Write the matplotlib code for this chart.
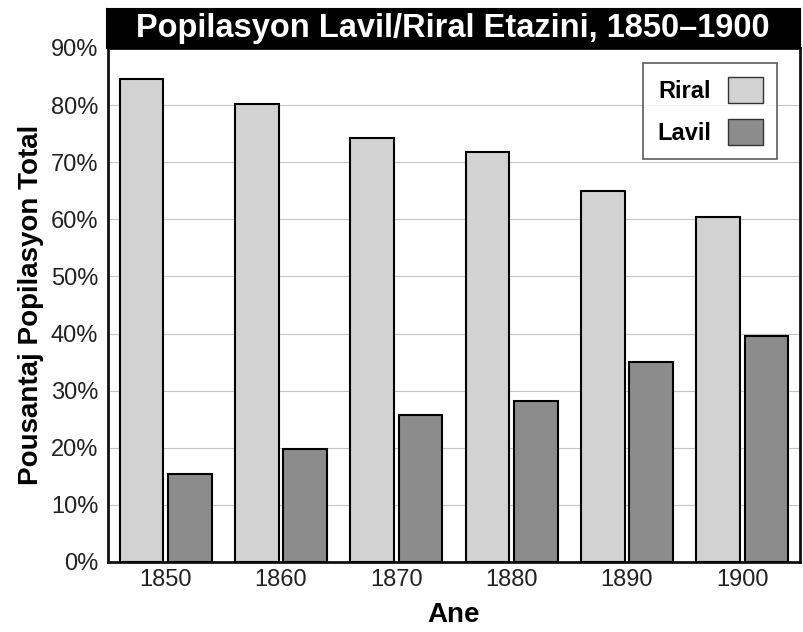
import matplotlib.pyplot as plt
import matplotlib.patches as mpatches
import numpy as np

plt.rcParams['font.family'] = ['Liberation Sans', 'DejaVu Sans']

# data
years = ['1850', '1860', '1870', '1880', '1890', '1900']
riral = [84.6, 80.2, 74.3, 71.8, 64.9, 60.4]
lavil = [15.4, 19.8, 25.7, 28.2, 35.1, 39.6]
yticks = [0, 10, 20, 30, 40, 50, 60, 70, 80, 90]

c_riral = '#d2d2d2'
c_lavil = '#8c8c8c'

fig = plt.figure(figsize=(8.04, 6.32), dpi=100)
ax = fig.add_axes([108 / 804, 1 - 562 / 632, 692 / 804, 514 / 632])

x = np.arange(len(years))
w = 0.38
ax.bar(x - 0.21, riral, w, color=c_riral, edgecolor='black', linewidth=1.5, zorder=3)
ax.bar(x + 0.21, lavil, w, color=c_lavil, edgecolor='black', linewidth=1.5, zorder=3)

ax.set_xlim(-0.5, len(years) - 0.5)
ax.set_ylim(0, 90)
ax.set_yticks(yticks)
ax.set_yticklabels([f'{v}%' for v in yticks], fontsize=17, color='#222222')
ax.set_xticks(x)
ax.set_xticklabels(years, fontsize=17, color='#222222')
ax.tick_params(axis='y', length=0, pad=7)
ax.tick_params(axis='x', length=0, pad=5)
ax.yaxis.grid(True, color='#c4c4c4', linewidth=0.8, zorder=0)
for s in ax.spines.values():
    s.set_linewidth(2)
    s.set_color('#111111')

ax.set_xlabel('Ane', fontsize=20, fontweight='bold', labelpad=8)
ax.set_ylabel('Pousantaj Popilasyon Total', fontsize=20, fontweight='bold', labelpad=5)

handles = [mpatches.Patch(facecolor=c_riral, edgecolor='#333333', label='Riral'),
           mpatches.Patch(facecolor=c_lavil, edgecolor='#333333', label='Lavil')]
leg = ax.legend(handles=handles, loc='upper right', bbox_to_anchor=(0.967, 0.971),
                borderaxespad=0, markerfirst=False, fancybox=False, edgecolor='#333333',
                prop={'weight': 'bold', 'size': 17}, handlelength=1.5, handleheight=1.3,
                labelspacing=0.7, borderpad=0.6, handletextpad=0.7)
leg.get_frame().set_linewidth(1.2)

# black title bar above the plot
tax = fig.add_axes([106 / 804, 1 - 48 / 632, 694 / 804, 40 / 632])
tax.set_facecolor('black')
tax.set_xticks([])
tax.set_yticks([])
tax.text(0.5, 0.48, 'Popilasyon Lavil/Riral Etazini, 1850\u20131900', color='white',
         fontsize=23.5, fontweight='bold', ha='center', va='center', transform=tax.transAxes)

fig.savefig('out.png', dpi=100)
